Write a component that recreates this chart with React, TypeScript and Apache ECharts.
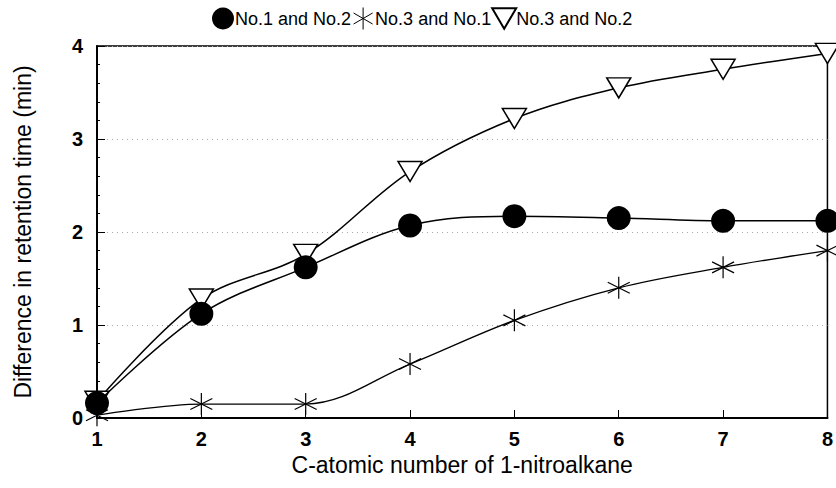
import React, { useEffect, useRef } from "react";
import * as echarts from "echarts";

const categories = [1, 2, 3, 4, 5, 6, 7, 8];
const no1no2 = [0.16, 1.12, 1.62, 2.07, 2.17, 2.15, 2.12, 2.12];
const no3no1 = [0.03, 0.15, 0.15, 0.58, 1.05, 1.4, 1.62, 1.8];
const no3no2 = [0.18, 1.28, 1.76, 2.65, 3.22, 3.55, 3.75, 3.92];
const yTicks = [0, 1, 2, 3, 4];

const STAR = "path://M10,0L10,20M1.34,5L18.66,15M1.34,15L18.66,5";
const TRI = "path://M0,0L20,0L10,17Z";

export default function App() {
  const ref = useRef<HTMLDivElement>(null);
  useEffect(() => {
    if (!ref.current) return;
    const chart = echarts.init(ref.current, undefined, { renderer: "svg" });
    const font = "Liberation Sans, Arial, sans-serif";
    const mk = (arr: number[]) => arr.map((v, i) => [categories[i], v]);
    chart.setOption({
      animation: false,
      backgroundColor: "#fff",
      textStyle: { fontFamily: font, color: "#000" },
      legend: {
        top: 0,
        left: 207,
        itemGap: 0,
        itemWidth: 24,
        itemHeight: 22,
        textStyle: { fontSize: 18, color: "#000", fontFamily: font, padding: [0, 0, 0, -5] },
        data: [
          { name: "No.1 and No.2", icon: "circle" },
          { name: "No.3 and No.1", icon: STAR, itemStyle: { borderWidth: 1 } },
          { name: "No.3 and No.2", icon: TRI },
        ],
      },
      grid: {
        left: 97,
        right: 8,
        top: 46,
        bottom: 70,
        show: true,
        borderColor: "#000",
        borderWidth: 1.5,
      },
      xAxis: {
        type: "value",
        min: 1,
        max: 8,
        interval: 1,
        name: "C-atomic number of 1-nitroalkane",
        nameLocation: "middle",
        nameGap: 33,
        nameTextStyle: { fontSize: 23, color: "#000", fontFamily: font },
        axisLine: { lineStyle: { color: "#000", width: 2 } },
        axisTick: { inside: true, length: 8, lineStyle: { color: "#000" } },
        axisLabel: { fontSize: 20, fontWeight: "bold", color: "#000", margin: 11, fontFamily: font },
        splitLine: { show: false },
      },
      yAxis: {
        type: "value",
        min: yTicks[0],
        max: yTicks[yTicks.length - 1],
        interval: 1,
        name: "Difference in retention time (min)",
        nameLocation: "middle",
        nameGap: 63,
        nameTextStyle: { fontSize: 23, color: "#000", fontFamily: font },
        axisLine: { lineStyle: { color: "#000", width: 2 } },
        axisTick: { inside: true, length: 8, lineStyle: { color: "#000" } },
        minorTick: { show: true, splitNumber: 5, length: 3, lineStyle: { color: "#000" } },
        axisLabel: { fontSize: 20, fontWeight: "bold", color: "#000", margin: 14, fontFamily: font },
        splitLine: { show: true, lineStyle: { color: "#aaa", type: [1, 4], width: 1 } },
      },
      series: [
        {
          name: "No.1 and No.2",
          type: "line",
          smooth: 0.35,
          clip: false,
          data: mk(no1no2),
          symbol: "circle",
          symbolSize: 24,
          itemStyle: { color: "#000" },
          lineStyle: { color: "#000", width: 1.5 },
          z: 3,
        },
        {
          name: "No.3 and No.1",
          type: "line",
          smooth: 0.35,
          clip: false,
          data: mk(no3no1),
          symbol: STAR,
          symbolSize: 22,
          itemStyle: { color: "none", borderColor: "#000", borderWidth: 1.2 },
          lineStyle: { color: "#000", width: 1.3 },
          z: 2,
        },
        {
          name: "No.3 and No.2",
          type: "line",
          smooth: 0.35,
          clip: false,
          data: mk(no3no2),
          symbol: TRI,
          symbolSize: [24, 20],
          itemStyle: { color: "#fff", borderColor: "#000", borderWidth: 1.5 },
          lineStyle: { color: "#000", width: 1.5 },
          z: 2,
        },
      ],
    });
    return () => chart.dispose();
  }, []);
  return (
    <div
      ref={ref}
      style={{ position: "absolute", left: 0, top: 0, width: 836, height: 488 }}
    />
  );
}
